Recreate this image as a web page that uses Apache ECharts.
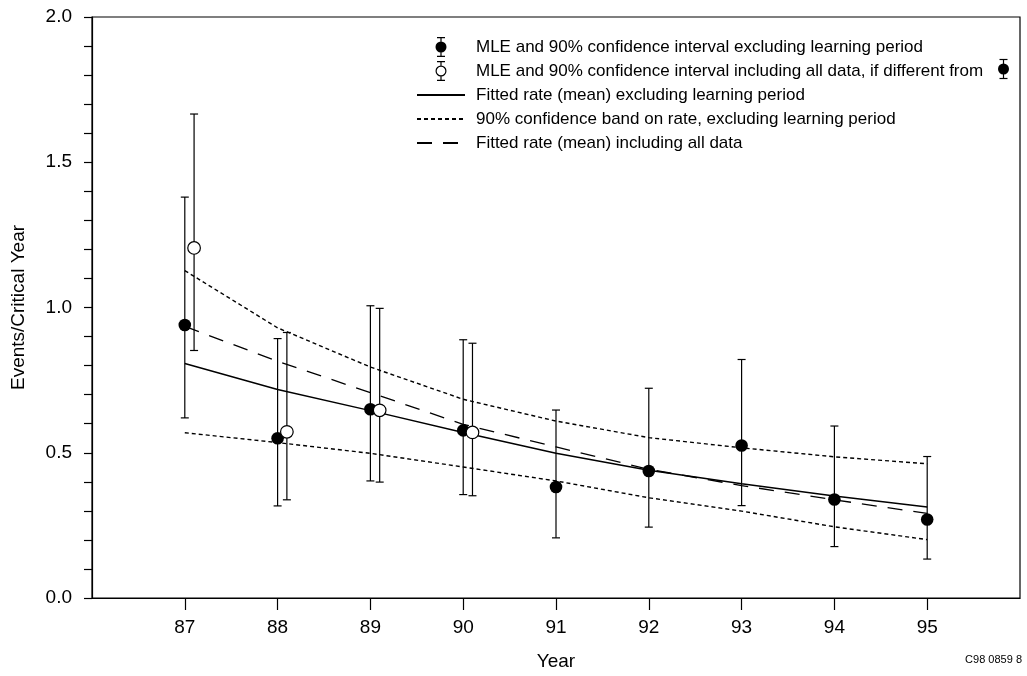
<!DOCTYPE html>
<html>
<head>
<meta charset="utf-8">
<script src="https://cdn.jsdelivr.net/npm/echarts@6/dist/echarts.min.js"></script>
<style>
  html, body { margin: 0; padding: 0; background: #fff; }
  #chart { width: 1027px; height: 676px; }
</style>
</head>
<body>
<div id="chart"></div>
<script>
// years on the x axis
const years = [87, 88, 89, 90, 91, 92, 93, 94, 95]

// MLE and 90% CI, excluding learning period (filled points)
const mleExcl = [0.94, 0.55, 0.65, 0.577, 0.382, 0.437, 0.525, 0.339, 0.27]
const loExcl = [0.62, 0.317, 0.403, 0.356, 0.207, 0.244, 0.318, 0.177, 0.134]
const hiExcl = [1.38, 0.893, 1.006, 0.889, 0.647, 0.722, 0.821, 0.592, 0.487]

// MLE and 90% CI including all data (open points, only where different)
const yearsAll = [87, 88, 89, 90]
const mleAll = [1.205, 0.572, 0.646, 0.57]
const loAll = [0.852, 0.338, 0.399, 0.352]
const hiAll = [1.666, 0.914, 0.997, 0.877]
const openShift = 0.1 // open markers sit just right of the year

// fitted curves
const fitExcl = [0.807, 0.718, 0.645, 0.57, 0.498, 0.44, 0.393, 0.351, 0.313]
const bandHi = [1.127, 0.93, 0.795, 0.684, 0.609, 0.552, 0.517, 0.486, 0.462]
const bandLo = [0.569, 0.535, 0.498, 0.451, 0.403, 0.345, 0.299, 0.245, 0.201]
const fitAll = [0.935, 0.815, 0.707, 0.598, 0.52, 0.443, 0.387, 0.338, 0.291]

const yTicks = [0, 0.5, 1, 1.5, 2]

const FONT = 'Arial, "Liberation Sans", sans-serif'
const INK = '#000'

const names = [
  'MLE and 90% confidence interval excluding learning period',
  'MLE and 90% confidence interval including all data, if different from',
  'Fitted rate (mean) excluding learning period',
  '90% confidence band on rate, excluding learning period',
  'Fitted rate (mean) including all data'
]

// legend icons: error bar with filled / open circle
const iconFilled = 'path://M2,0H10V1.2H2Z M5.4,1.2H6.6V4.4H5.4Z M5.4,15.6H6.6V18.8H5.4Z M2,18.8H10V20H2Z ' +
  'M0.5,10A5.5,5.5 0 1,1 11.5,10A5.5,5.5 0 1,1 0.5,10Z'
const iconOpen = 'path://M2,0H10V1.2H2Z M5.4,1.2H6.6V4.4H5.4Z M5.4,15.6H6.6V18.8H5.4Z M2,18.8H10V20H2Z ' +
  'M0.5,10A5.5,5.5 0 1,1 11.5,10A5.5,5.5 0 1,1 0.5,10Z M1.7,10A4.3,4.3 0 1,0 10.3,10A4.3,4.3 0 1,0 1.7,10Z'

const zip = (xs, ...cols) => xs.map((x, i) => [x, ...cols.map(c => c[i])])

const errRender = (open) => (params, api) => {
  const x = api.value(0)
  const mid = api.coord([x, api.value(1)])
  const lo = api.coord([x, api.value(2)])
  const hi = api.coord([x, api.value(3)])
  const w = 4
  const st = { stroke: INK, lineWidth: 1.2 }
  return {
    type: 'group',
    children: [
      { type: 'line', shape: { x1: hi[0], y1: hi[1], x2: lo[0], y2: lo[1] }, style: st },
      { type: 'line', shape: { x1: hi[0] - w, y1: hi[1], x2: hi[0] + w, y2: hi[1] }, style: st },
      { type: 'line', shape: { x1: lo[0] - w, y1: lo[1], x2: lo[0] + w, y2: lo[1] }, style: st },
      {
        type: 'circle',
        shape: { cx: mid[0], cy: mid[1], r: 6.3 },
        style: open ? { fill: '#fff', stroke: INK, lineWidth: 1.2 } : { fill: INK }
      }
    ]
  }
}

const chart = echarts.init(document.getElementById('chart'))

chart.setOption({
  animation: false,
  backgroundColor: '#fff',
  textStyle: { fontFamily: FONT, color: INK },
  grid: {
    left: 92, right: 7, top: 17, bottom: 76,
    show: true, borderColor: INK, borderWidth: 1.2, backgroundColor: 'transparent'
  },
  legend: {
    left: 411,
    top: 32,
    orient: 'vertical',
    itemWidth: 48,
    itemHeight: 20,
    itemGap: 4,
    textStyle: { fontFamily: FONT, fontSize: 17, color: INK, lineHeight: 20, padding: [0, 0, 0, 6] },
    data: [
      { name: names[0], icon: iconFilled, itemStyle: { color: INK } },
      { name: names[1], icon: iconOpen, itemStyle: { color: INK } },
      { name: names[2], itemStyle: { opacity: 0 } },
      { name: names[3], itemStyle: { opacity: 0 } },
      { name: names[4], itemStyle: { opacity: 0 } }
    ]
  },
  xAxis: {
    type: 'value',
    min: 86,
    max: 96,
    interval: 1,
    name: 'Year',
    nameLocation: 'middle',
    nameGap: 54,
    nameTextStyle: { fontSize: 19, fontFamily: FONT, color: INK },
    axisLine: { lineStyle: { color: INK, width: 1.2 } },
    axisTick: { show: true, length: 12, customValues: years, lineStyle: { color: INK, width: 1.2 } },
    axisLabel: { customValues: years, fontSize: 19, color: INK, margin: 20 },
    splitLine: { show: false }
  },
  yAxis: {
    type: 'value',
    min: 0,
    max: 2,
    interval: 0.5,
    name: 'Events/Critical Year',
    nameLocation: 'middle',
    nameGap: 64,
    nameTextStyle: { fontSize: 19, fontFamily: FONT, color: INK },
    axisLine: { show: true, lineStyle: { color: INK, width: 1.2 } },
    axisTick: { show: true, length: 8, lineStyle: { color: INK, width: 1.2 } },
    minorTick: { show: true, splitNumber: 5, length: 8, lineStyle: { color: INK, width: 1.2 } },
    axisLabel: {
      fontSize: 19, color: INK, margin: 20,
      customValues: yTicks,
      formatter: v => v.toFixed(1)
    },
    splitLine: { show: false },
    minorSplitLine: { show: false }
  },
  series: [
    {
      name: names[0],
      type: 'custom',
      z: 10,
      renderItem: errRender(false),
      encode: { x: 0, y: [1, 2, 3] },
      data: zip(years, mleExcl, loExcl, hiExcl)
    },
    {
      name: names[1],
      type: 'custom',
      z: 11,
      renderItem: errRender(true),
      encode: { x: 0, y: [1, 2, 3] },
      data: zip(yearsAll.map(y => y + openShift), mleAll, loAll, hiAll)
    },
    {
      name: names[2],
      type: 'line',
      symbol: 'none',
      data: zip(years, fitExcl),
      lineStyle: { color: INK, width: 1.5, type: 'solid' },
      itemStyle: { color: INK }
    },
    {
      name: names[3],
      type: 'line',
      symbol: 'none',
      data: zip(years, bandHi),
      lineStyle: { color: INK, width: 1.4, type: [4, 3] },
      itemStyle: { color: INK }
    },
    {
      name: names[3],
      type: 'line',
      symbol: 'none',
      data: zip(years, bandLo),
      lineStyle: { color: INK, width: 1.4, type: [4, 3] },
      itemStyle: { color: INK }
    },
    {
      name: names[4],
      type: 'line',
      symbol: 'none',
      data: zip(years, fitAll),
      lineStyle: { color: INK, width: 1.3, type: [15, 11] },
      itemStyle: { color: INK }
    }
  ],
  graphic: [
    // the small "filled point" marker at the end of legend line 2
    {
      type: 'group',
      left: 997,
      top: 57,
      children: [
        { type: 'line', shape: { x1: 6, y1: 0, x2: 6, y2: 19 }, style: { stroke: INK, lineWidth: 1.2 } },
        { type: 'line', shape: { x1: 2, y1: 0, x2: 10, y2: 0 }, style: { stroke: INK, lineWidth: 1.2 } },
        { type: 'line', shape: { x1: 2, y1: 19, x2: 10, y2: 19 }, style: { stroke: INK, lineWidth: 1.2 } },
        { type: 'circle', shape: { cx: 6, cy: 9.5, r: 5.5 }, style: { fill: INK } }
      ]
    },
    {
      type: 'text',
      right: 5,
      top: 654,
      style: { text: 'C98 0859 8', font: '11px ' + FONT, fill: INK }
    }
  ]
})
</script>
</body>
</html>
